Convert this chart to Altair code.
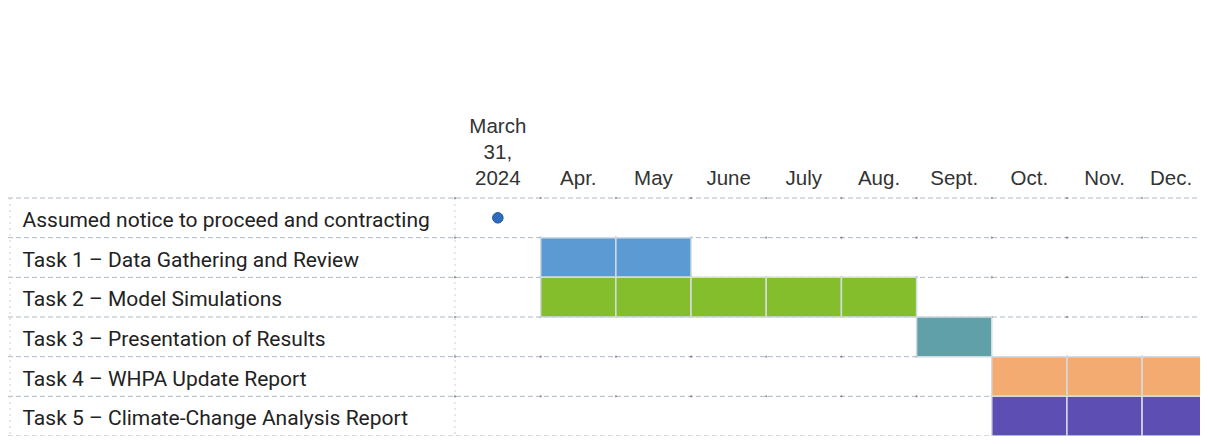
import altair as alt
import pandas as pd

# ---- data ----
tasks = [
    "Assumed notice to proceed and contracting",
    "Task 1 – Data Gathering and Review",
    "Task 2 – Model Simulations",
    "Task 3 – Presentation of Results",
    "Task 4 – WHPA Update Report",
    "Task 5 – Climate-Change Analysis Report",
]

col_labels = ["March\n31,\n2024", "Apr.", "May", "June", "July", "Aug.",
              "Sept.", "Oct.", "Nov.", "Dec."]
col_start = [2.86, 4, 5, 6, 7, 8, 9, 10, 11, 12]
col_end = [4, 5, 6, 7, 8, 9, 10, 11, 12, 13]
x_min, x_max = 2.86, 12.77

bar_tasks = tasks[1:]
bar_start = [4, 4, 9, 10, 10]
bar_end = [6, 9, 10, 13, 13]
bar_colors = ["#5C9AD4", "#84BE2C", "#60A0A8", "#F4AB72", "#5C4EB2"]

milestone_task = [tasks[0]]
milestone_x = [3.43]

# ---- layout (style) ----
W, H = 745, 238
LABEL_PAD = 433
LINE_H = 26
HEAD_BASE = -13

# ---- tables built from the arrays ----
cells = pd.DataFrame(
    [{"task": t, "m0": m, "m1": m + 1}
     for t, s, e in zip(bar_tasks, bar_start, bar_end) for m in range(s, e)]
)
header = pd.DataFrame({
    "label": col_labels,
    "mid": [(s + min(e, x_max)) / 2 for s, e in zip(col_start, col_end)],
    "ypx": [HEAD_BASE - (lab.count("\n")) * LINE_H for lab in col_labels],
})
rows = pd.DataFrame({"task": tasks})
last_row = pd.DataFrame({"task": tasks[-1:]})
milestone = pd.DataFrame({"task": milestone_task, "x": milestone_x})
dots = pd.DataFrame([{"task": t, "x": c} for t in tasks for c in col_start])

xscale = alt.Scale(domain=[x_min, x_max], zero=False, nice=False)
yscale = alt.Scale(domain=tasks, paddingInner=0, paddingOuter=0)
yaxis = alt.Axis(
    title=None, ticks=False, domain=False, grid=False,
    labelAlign="left", labelPadding=LABEL_PAD, labelLimit=460,
    labelFont="Roboto", labelFontSize=21, labelColor="#222222",
    labelOffset=3,
)


def yenc(band=0.5):
    return alt.Y("task:N", scale=yscale, axis=yaxis, sort=tasks,
                 bandPosition=band)


grid_top = alt.Chart(rows).mark_rule(
    color="#AEB8C6", strokeWidth=1, strokeDash=[5, 3]
).encode(x=alt.value(-447), x2=alt.value(W), y=yenc(0))

grid_bottom = alt.Chart(last_row).mark_rule(
    color="#AEB8C6", strokeWidth=1, strokeDash=[5, 3]
).encode(x=alt.value(-447), x2=alt.value(W), y=yenc(1))

vlines = alt.Chart(pd.DataFrame({"p": [0, -445]})).mark_rule(
    color="#C9D0DA", strokeWidth=1, strokeDash=[2, 4]
).encode(x=alt.X("p:Q", scale=None), y=alt.value(0), y2=alt.value(H))

dot_layer = alt.Chart(dots).mark_circle(size=5, color="#444444", opacity=0.55).encode(
    x=alt.X("x:Q", scale=xscale, axis=None), y=yenc(0)
)

bars = alt.Chart(cells).mark_rect(
    clip=True, stroke="#D3DBE2", strokeWidth=1.5
).encode(
    x=alt.X("m0:Q", scale=xscale, axis=None),
    x2="m1:Q",
    y=yenc(),
    color=alt.Color("task:N", scale=alt.Scale(domain=bar_tasks, range=bar_colors),
                    legend=None),
)

ms = alt.Chart(milestone).mark_circle(
    size=110, color="#2E6CC0", stroke="#1F4F94", strokeWidth=1, opacity=1
).encode(x=alt.X("x:Q", scale=xscale, axis=None), y=yenc())

head = alt.Chart(header).mark_text(
    baseline="alphabetic", align="center", lineBreak="\n", lineHeight=LINE_H,
    font="Liberation Sans", fontSize=20.5, color="#333333",
).encode(
    x=alt.X("mid:Q", scale=xscale, axis=None),
    y=alt.Y("ypx:Q", scale=None),
    text="label:N",
)

chart = alt.layer(grid_top, grid_bottom, vlines, dot_layer, bars, ms, head).properties(
    width=W, height=H,
    autosize=alt.AutoSizeParams(type="none"),
    padding={"left": 447, "top": 190, "right": 0, "bottom": 0},
    background="white",
).configure_view(stroke=None)

chart.save("out.html", embed_options={"renderer": "svg", "actions": False})
